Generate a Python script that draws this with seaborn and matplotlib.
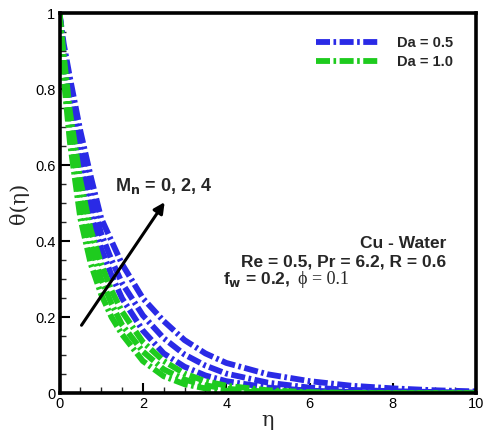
import numpy as np
import pandas as pd
import matplotlib
matplotlib.use("Agg")
import matplotlib.pyplot as plt
import seaborn as sns
from matplotlib.lines import Line2D
from matplotlib.ticker import MultipleLocator

eta = [0, 0.1, 0.25, 0.5, 0.75, 1, 1.25, 1.5, 2, 2.5, 3, 3.5, 4, 5, 6, 7, 8, 9, 10]

blue_mn0 = [1, 0.88, 0.76, 0.60, 0.47, 0.38, 0.31, 0.25, 0.165, 0.105, 0.07, 0.047, 0.032, 0.015, 0.007, 0.0035, 0.0017, 0.0008, 0.0004]
blue_mn2 = [1, 0.90, 0.80, 0.645, 0.52, 0.42, 0.35, 0.29, 0.205, 0.145, 0.102, 0.073, 0.052, 0.028, 0.015, 0.009, 0.0055, 0.0035, 0.002]
blue_mn4 = [1, 0.92, 0.83, 0.69, 0.57, 0.46, 0.40, 0.34, 0.25, 0.19, 0.14, 0.105, 0.08, 0.05, 0.032, 0.02, 0.013, 0.008, 0.005]

green_mn0 = [1, 0.83, 0.66, 0.46, 0.34, 0.26, 0.20, 0.155, 0.085, 0.045, 0.024, 0.013, 0.007, 0.002, 0.0007, 0.0003, 0.0001, 0.00005, 0]
green_mn2 = [1, 0.86, 0.70, 0.51, 0.39, 0.30, 0.235, 0.18, 0.11, 0.063, 0.036, 0.021, 0.012, 0.004, 0.0014, 0.0006, 0.0002, 0.0001, 0]
green_mn4 = [1, 0.89, 0.74, 0.56, 0.43, 0.34, 0.27, 0.215, 0.135, 0.085, 0.052, 0.032, 0.02, 0.008, 0.003, 0.0012, 0.0005, 0.0002, 0.0001]

da_labels = ["Da = 0.5", "Da = 1.0"]
mn_values = [0, 2, 4]
x_ticks = [0, 2, 4, 6, 8, 10]
y_ticks = [0, 0.2, 0.4, 0.6, 0.8, 1]
x_tick_labels = ["0", "2", "4", "6", "8", "10"]
y_tick_labels = ["0", "0.2", "0.4", "0.6", "0.8", "1"]

series = {
    ("Da = 0.5", 0): blue_mn0, ("Da = 0.5", 2): blue_mn2, ("Da = 0.5", 4): blue_mn4,
    ("Da = 1.0", 0): green_mn0, ("Da = 1.0", 2): green_mn2, ("Da = 1.0", 4): green_mn4,
}
rows = []
for (da, mn), vals in series.items():
    for e, v in zip(eta, vals):
        rows.append({"eta": e, "theta": v, "Da": da, "Mn": mn})
df = pd.DataFrame(rows)

sns.set_style("ticks")
plt.rcParams['font.family'] = ['Liberation Sans', 'DejaVu Sans']

colors = {"Da = 0.5": "#2a2ae6", "Da = 1.0": "#1ecb1e"}
dash = (0, (2.4, 0.6, 0.45, 0.6))
lw = 4.2

fig = plt.figure(figsize=(4.84, 4.30), dpi=100)
ax = fig.add_axes([0.123, 0.0853, 0.861, 0.884])

for (da, mn), sub in df.groupby(["Da", "Mn"]):
    sns.lineplot(data=sub, x="eta", y="theta", ax=ax, color=colors[da],
                 linewidth=lw, linestyle=dash, legend=False, estimator=None, sort=True)

ax.set_xlim(0, 10)
ax.set_ylim(0, 1)
ax.set_xticks(x_ticks)
ax.set_xticklabels(x_tick_labels)
ax.set_yticks(y_ticks)
ax.set_yticklabels(y_tick_labels)
ax.xaxis.set_minor_locator(MultipleLocator(0.5))
ax.yaxis.set_minor_locator(MultipleLocator(0.05))
ax.tick_params(which="major", direction="in", length=7, width=1.5, labelsize=10.5, pad=3, colors="black")
ax.tick_params(which="minor", direction="in", length=4, width=1.0)
ax.tick_params(top=False, right=False)
for s in ax.spines.values():
    s.set_linewidth(2.6)
    s.set_color("black")

ax.set_xlabel("η", family=["DejaVu Serif"], fontsize=15, labelpad=0)
ax.set_ylabel("θ(η)", family=["DejaVu Serif"], fontsize=15, labelpad=4)

handles = [Line2D([0], [0], color=colors[d], linewidth=lw, linestyle=dash) for d in da_labels]
leg = ax.legend(handles, da_labels, loc="upper right", bbox_to_anchor=(0.975, 0.975),
                frameon=False, handlelength=4.3, prop={"weight": "bold", "size": 10.5},
                labelspacing=0.35, handletextpad=1.2)

ax.annotate("", xy=(2.56, 0.509), xytext=(0.49, 0.173),
            arrowprops=dict(arrowstyle="-|>", color="black", lw=2.2, mutation_scale=16))
ax.text(1.33, 0.533, r"M$_\mathbf{n}$ = 0, 2, 4", fontsize=13, fontweight="bold", va="baseline")

ax.text(9.28, 0.382, "Cu - Water", fontsize=12.5, fontweight="bold", ha="right", va="baseline")
ax.text(9.28, 0.333, "Re = 0.5, Pr = 6.2, R = 0.6", fontsize=12.5, fontweight="bold", ha="right", va="baseline")
ax.text(3.92, 0.287, r"f$_\mathbf{w}$ = 0.2, ", fontsize=12.5, fontweight="bold", ha="left", va="baseline")
ax.text(5.72, 0.287, "ϕ = 0.1", fontsize=13, family=["Liberation Serif"], ha="left", va="baseline")

fig.savefig("out.png", dpi=100)
